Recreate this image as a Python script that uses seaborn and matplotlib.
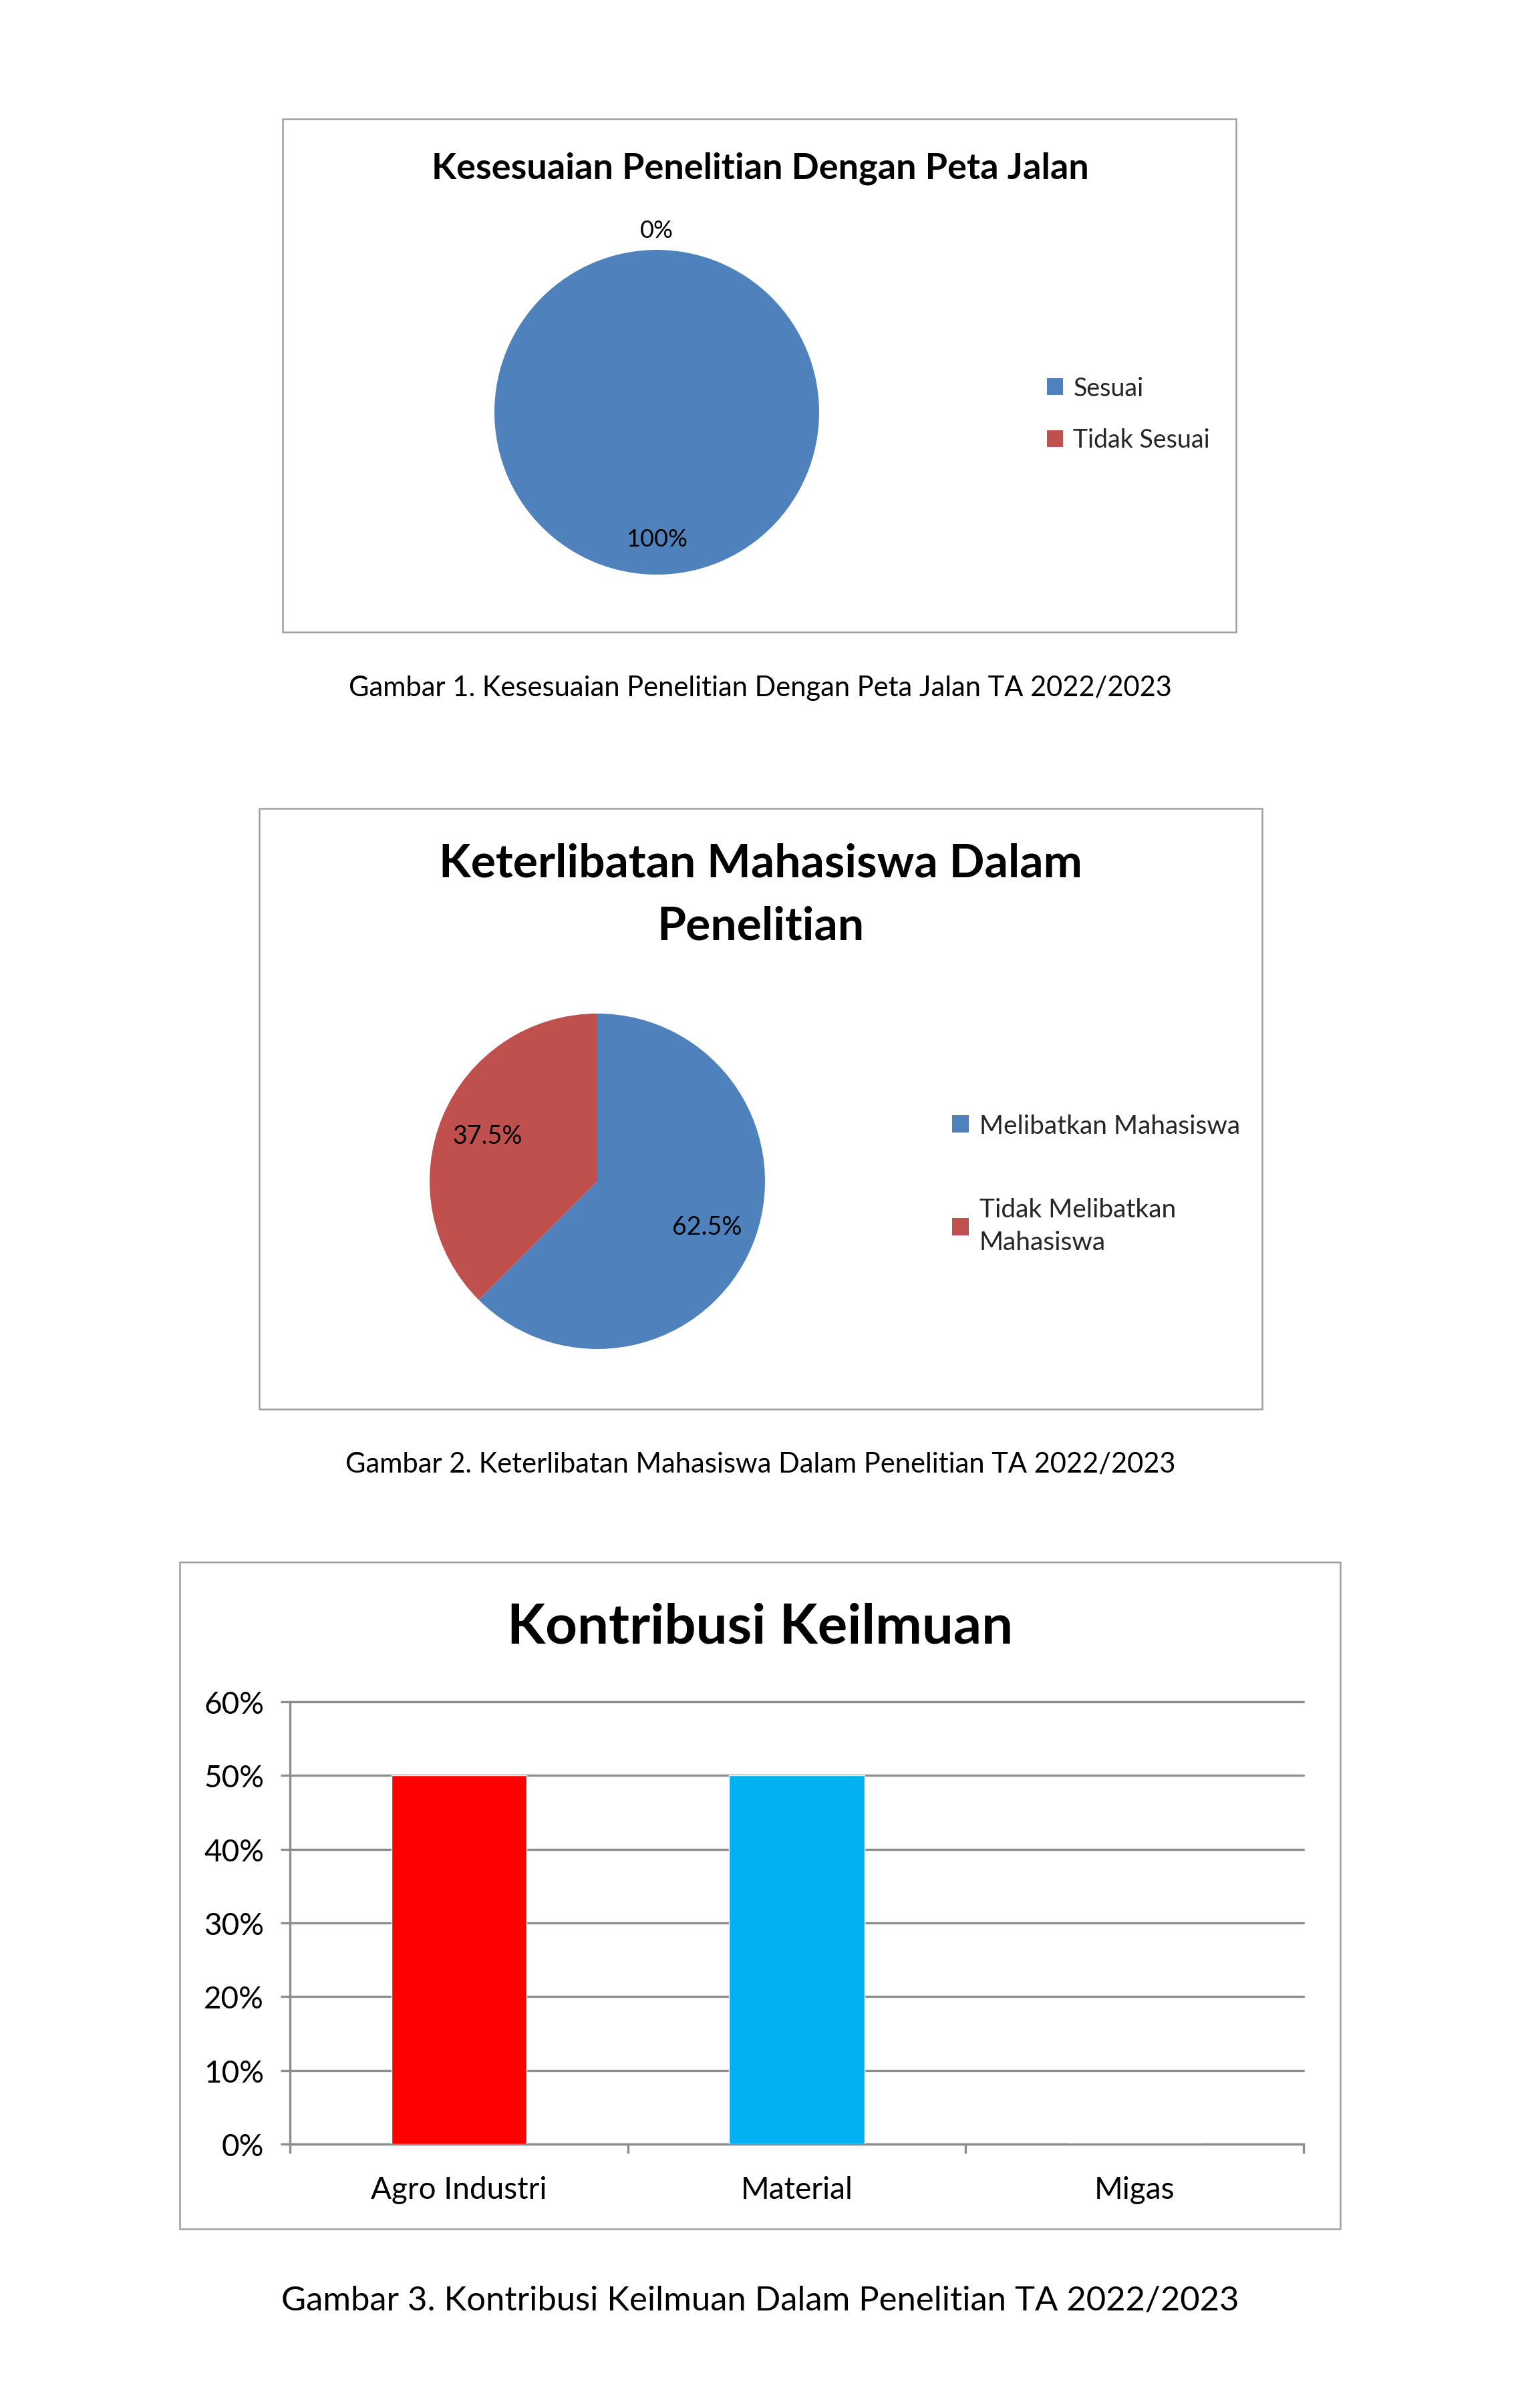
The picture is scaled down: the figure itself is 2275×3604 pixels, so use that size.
import numpy as np
import matplotlib
matplotlib.use("Agg")
import matplotlib.pyplot as plt
import seaborn as sns
import pandas as pd
from matplotlib.patches import Rectangle

# ---------------- data ----------------
pie1_title = "Kesesuaian Penelitian Dengan Peta Jalan"
pie1_labels = ["Sesuai", "Tidak Sesuai"]
pie1_values = [100, 0]
pie1_caption = "Gambar 1. Kesesuaian Penelitian Dengan Peta Jalan TA 2022/2023"

pie2_title = "Keterlibatan Mahasiswa Dalam\nPenelitian"
pie2_labels = ["Melibatkan Mahasiswa", "Tidak Melibatkan\nMahasiswa"]
pie2_values = [62.5, 37.5]
pie2_caption = "Gambar 2. Keterlibatan Mahasiswa Dalam Penelitian TA 2022/2023"

bar_title = "Kontribusi Keilmuan"
bar_categories = ["Agro Industri", "Material", "Migas"]
bar_values = [0.50, 0.50, 0.00]
bar_yticks = [0.0, 0.1, 0.2, 0.3, 0.4, 0.5, 0.6]
bar_caption = "Gambar 3. Kontribusi Keilmuan Dalam Penelitian TA 2022/2023"

pie_colors = ["#4F81BD", "#C0504D"]
bar_colors = ["#FF0000", "#00B0F0", "#92D050"]

# ---------------- setup ----------------
sns.set_theme(style="white")
FONT = ["Lato", "DejaVu Sans"]
plt.rcParams["font.family"] = FONT

W, H = 2275, 3605
DPI = 100
fig = plt.figure(figsize=(W / DPI, H / DPI), dpi=DPI)
fig.patch.set_facecolor("white")

FRAME = "#A0A0A0"
GRID = "#8C8C8C"


def fx(x):
    return x / W


def fy(y):
    return 1 - y / H


def frame(x0, y0, x1, y1):
    fig.patches.append(Rectangle((fx(x0), fy(y1)), (x1 - x0) / W, (y1 - y0) / H,
                                 transform=fig.transFigure, fill=False,
                                 edgecolor=FRAME, linewidth=1.8, zorder=0))


def ftext(x, y, s, size, weight="normal", ha="center", va="center", ls=1.2):
    fig.text(fx(x), fy(y), s, fontsize=size, fontweight=weight, ha=ha, va=va,
             color="black", linespacing=ls, family=FONT)


def pie_chart(cx, cy, r, values, labels, inside_d, fs, leg_x, leg_y, leg_fs, leg_ls, leg_lines=1.2):
    box = 900
    ax = fig.add_axes([fx(cx - box / 2), fy(cy + box / 2), box / W, box / H])
    wedges, _ = ax.pie(values, colors=pie_colors, startangle=90, counterclock=False,
                       wedgeprops=dict(linewidth=0))
    k = box / (2 * r)
    ax.set_xlim(-k, k)
    ax.set_ylim(-k, k)
    ax.set_aspect("equal")
    ax.axis("off")
    for w, v in zip(wedges, values):
        mid = np.deg2rad((w.theta1 + w.theta2) / 2)
        d = 1.12 if v == 0 else inside_d
        ax.text(d * np.cos(mid), d * np.sin(mid), f"{v:g}%", ha="center", va="center",
                fontsize=fs, color="black", family=FONT)
    leg = ax.legend(wedges, labels, loc="upper left", bbox_to_anchor=(fx(leg_x), fy(leg_y)),
                    bbox_transform=fig.transFigure, frameon=False, fontsize=leg_fs,
                    handlelength=0.65, handleheight=0.65, handletextpad=0.4,
                    labelspacing=leg_ls, borderpad=0, borderaxespad=0)
    for t in leg.get_texts():
        t.set_linespacing(leg_lines)
    return ax


# ---------------- chart 1 ----------------
frame(423, 179, 1850, 947)
ftext(1138, 252, pie1_title, 39, weight="bold")
pie_chart(983, 618, 243, pie1_values, pie1_labels, 0.78, 26,
          1567, 564, 27, 1.1)
ftext(1138, 1030, pie1_caption, 30)

# ---------------- chart 2 ----------------
frame(388, 1211, 1889, 2110)
ftext(1138, 1340, pie2_title, 50, weight="bold", ls=1.6)
pie_chart(894, 1769, 251, pie2_values, pie2_labels, 0.71, 27,
          1425, 1668, 28, 2.3, leg_lines=1.45)
ftext(1138, 2192, pie2_caption, 30)

# ---------------- chart 3 ----------------
frame(269, 2339, 2006, 3337)
ftext(1138, 2436, bar_title, 60, weight="bold")
ax3 = fig.add_axes([fx(434), fy(3210), (1951 - 434) / W, (3210 - 2548) / H])
df = pd.DataFrame({"Bidang": bar_categories, "Persen": bar_values})
sns.barplot(data=df, x="Bidang", y="Persen", hue="Bidang", palette=bar_colors,
            width=0.4, saturation=1, legend=False, ax=ax3, zorder=3)
ax3.set_xlim(-0.5, len(bar_categories) - 0.5)
ax3.set_ylim(0, 0.6)
ax3.set_yticks(bar_yticks)
ax3.set_yticklabels([f"{round(t * 100):d}%" for t in bar_yticks])
ax3.set_xlabel("")
ax3.set_ylabel("")
ax3.set_facecolor("none")
ax3.yaxis.grid(True, color=GRID, linewidth=2.4)
ax3.xaxis.grid(False)
for gl in ax3.get_ygridlines():
    gl.set_clip_on(False)
ax3.set_axisbelow(True)
for side in ["top", "right"]:
    ax3.spines[side].set_visible(False)
for side in ["left", "bottom"]:
    ax3.spines[side].set_color(GRID)
    ax3.spines[side].set_linewidth(2.4)
ax3.set_xticks([i - 0.5 for i in range(len(bar_categories) + 1)], minor=True)
ax3.tick_params(left=True, bottom=True, which="both")
ax3.tick_params(axis="x", which="major", length=0, labelsize=33, pad=34, labelcolor="black")
ax3.tick_params(axis="x", which="minor", length=10, width=2.4, color=GRID, direction="out")
ax3.tick_params(axis="y", which="major", length=10, width=2.4, color=GRID,
                labelsize=33, pad=18, labelcolor="black", direction="out")
ftext(1138, 3444, bar_caption, 36.5)

fig.savefig("out.png", dpi=DPI, facecolor="white")
